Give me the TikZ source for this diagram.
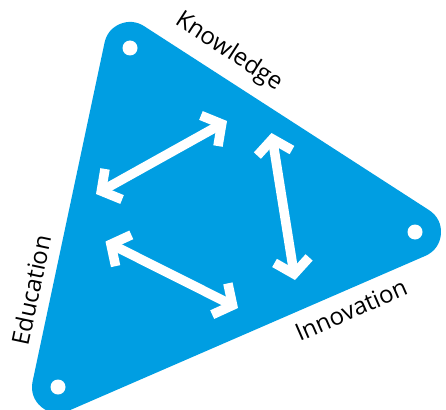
\documentclass[tikz,border=0pt]{standalone}
\usepackage{fontspec}
\setmainfont{Open Sans}
\usetikzlibrary{arrows.meta}
\definecolor{triblue}{RGB}{0,158,226}
\begin{document}
\begin{tikzpicture}[x=1pt,y=-1pt,
  barb/.tip={Straight Barb[length=14pt,width=35pt]},
  dbl/.style={white, line width=9.5pt, barb-barb},
  dot/.style={circle, fill=white, minimum size=15pt, inner sep=0pt},
  lbl/.style={font=\fontsize{24}{28}\selectfont, inner sep=0pt, text=black}]
\useasboundingbox (0,0) rectangle (446,409);
\coordinate (T) at (130,48);
\coordinate (R) at (415,232);
\coordinate (L) at (58,387);
\filldraw[triblue, line width=52pt, line join=round] (T) -- (R) -- (L) -- cycle;
\node[dot] (dT) at (T) {};
\node[dot] (dR) at (R) {};
\node[dot] (dL) at (L) {};
\coordinate (a1s) at (227,121);
\coordinate (a1e) at (96,194);
\coordinate (a2s) at (271.5,133);
\coordinate (a2e) at (295,280);
\coordinate (a3s) at (105.5,241.5);
\coordinate (a3e) at (238,308);
\draw[dbl] (a1s) -- (a1e);
\draw[dbl] (a2s) -- (a2e);
\draw[dbl] (a3s) -- (a3e);
\node[lbl, rotate=-33] (kn) at (229,52) {Knowledge};
\node[lbl, rotate=23.6] (in) at (351,310) {Innovation};
\node[lbl, rotate=78] (ed) at (31,290) {Education};
\end{tikzpicture}
\end{document}
